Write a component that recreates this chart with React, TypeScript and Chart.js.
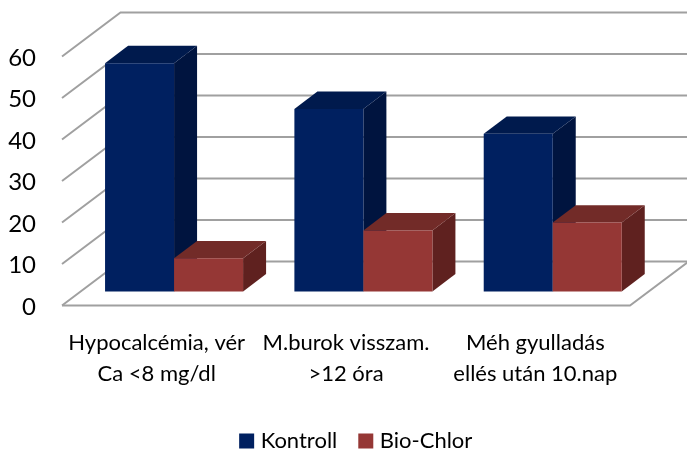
import React, { useEffect, useRef } from "react";
import { Chart, registerables } from "chart.js";

Chart.register(...registerables);

const categories = [
  ["Hypocalcémia, vér", "Ca <8 mg/dl"],
  ["M.burok visszam.", ">12 óra"],
  ["Méh gyulladás", "ellés után 10.nap"],
];
const kontroll = [55, 44, 38];
const bioChlor = [8, 14.7, 16.6];
const yMax = 60;
const yStep = 10;

const FONT = "Lato, Carlito, sans-serif";
const GRID = "#a0a0a0";
const FRONT_LEFT = 62;
const FRONT_TOP = 56.5;
const WALL_DX = 58.5;
const WALL_DY = 44;
const BAR_DX = 23;
const BAR_DY = 17.4;
const BAR_OFFSET_X = 17.4;
const BAR_OFFSET_Y = 14;
const LEGEND_PAD = 25.5;
const LEGEND_FONT = 22;
const LEGEND_CENTER_Y = 441;
const LEGEND_SHIFT_X = 43;
const X_AXIS_HEIGHT = 87;

const faces = [
  { side: "#00143f", top: "#001a4d" },
  { side: "#5f211f", top: "#722b28" },
];

function poly(ctx: CanvasRenderingContext2D, pts: number[][], fill: string) {
  ctx.beginPath();
  pts.forEach((p, i) => (i ? ctx.lineTo(p[0], p[1]) : ctx.moveTo(p[0], p[1])));
  ctx.closePath();
  ctx.fillStyle = fill;
  ctx.fill();
}

const scene3d = {
  id: "scene3d",
  afterLayout(chart: any) {
    const lg = chart.legend;
    lg.left += LEGEND_SHIFT_X;
    lg.right += LEGEND_SHIFT_X;
    const h = lg.bottom - lg.top;
    lg.top = LEGEND_CENTER_Y - LEGEND_PAD - LEGEND_FONT / 2;
    lg.bottom = lg.top + h;
  },
  beforeDatasetsDraw(chart: any) {
    const { ctx, chartArea, scales } = chart;
    const { left, right } = chartArea;
    ctx.save();
    ctx.strokeStyle = GRID;
    ctx.lineWidth = 2;
    for (let v = 0; v <= yMax; v += yStep) {
      const y = scales.y.getPixelForValue(v);
      ctx.beginPath();
      ctx.moveTo(left, y);
      ctx.lineTo(left + WALL_DX, y - WALL_DY);
      ctx.lineTo(right + WALL_DX, y - WALL_DY);
      ctx.stroke();
    }
    const y0 = scales.y.getPixelForValue(0);
    ctx.beginPath();
    ctx.moveTo(left, y0);
    ctx.lineTo(right, y0);
    ctx.lineTo(right + WALL_DX, y0 - WALL_DY);
    ctx.stroke();

    ctx.translate(BAR_OFFSET_X, -BAR_OFFSET_Y);
    chart.data.datasets.forEach((_: any, i: number) => {
      const meta = chart.getDatasetMeta(i);
      meta.data.forEach((bar: any) => {
        const { x, y, base, width } = bar.getProps(["x", "y", "base", "width"], true);
        const l = x - width / 2;
        const r = x + width / 2;
        poly(ctx, [[r, y], [r + BAR_DX, y - BAR_DY], [r + BAR_DX, base - BAR_DY], [r, base]], faces[i].side);
        poly(ctx, [[l, y], [l + BAR_DX, y - BAR_DY], [r + BAR_DX, y - BAR_DY], [r, y]], faces[i].top);
      });
      meta.controller.draw();
    });
    ctx.restore();
    return false;
  },
};

export default function App() {
  const ref = useRef<HTMLCanvasElement>(null);
  useEffect(() => {
    const chart = new Chart(ref.current!, {
      type: "bar",
      data: {
        labels: categories as any,
        datasets: [
          { label: "Kontroll", data: kontroll, backgroundColor: "#002060" },
          { label: "Bio-Chlor", data: bioChlor, backgroundColor: "#953735" },
        ],
      },
      plugins: [scene3d],
      options: {
        animation: false,
        responsive: false,
        layout: { padding: { left: 0, right: 57, top: FRONT_TOP, bottom: 0 } },
        datasets: { bar: { barPercentage: 1, categoryPercentage: 0.729 } },
        plugins: {
          tooltip: { enabled: false },
          legend: {
            position: "bottom",
            labels: {
              color: "#000",
              boxWidth: 6,
              boxHeight: 6,
              padding: LEGEND_PAD,
              font: { family: FONT, size: LEGEND_FONT },
              generateLabels: (c: any) =>
                (Chart.defaults.plugins.legend.labels as any).generateLabels(c).map((l: any) => ({
                  ...l,
                  lineWidth: 9,
                  strokeStyle: l.fillStyle,
                })),
            },
          },
        },
        scales: {
          x: {
            border: { display: false },
            grid: { display: false },
            afterFit: (s: any) => {
              s.height = X_AXIS_HEIGHT;
            },
            ticks: {
              color: "#000",
              padding: 14,
              autoSkip: false,
              maxRotation: 0,
              minRotation: 0,
              font: { family: FONT, size: 22, lineHeight: 1.4 },
            },
          },
          y: {
            min: 0,
            max: yMax,
            border: { display: false },
            grid: { display: false },
            afterFit: (s: any) => {
              s.width = FRONT_LEFT;
            },
            ticks: {
              stepSize: yStep,
              color: "#000",
              padding: 18,
              labelOffset: 1.5,
              font: { family: FONT, size: 24 },
            },
          },
        },
      },
    } as any);
    return () => chart.destroy();
  }, []);
  return (
    <canvas
      ref={ref}
      width={687}
      height={450}
      style={{ position: "absolute", left: 0, top: 0, display: "block" }}
    />
  );
}
